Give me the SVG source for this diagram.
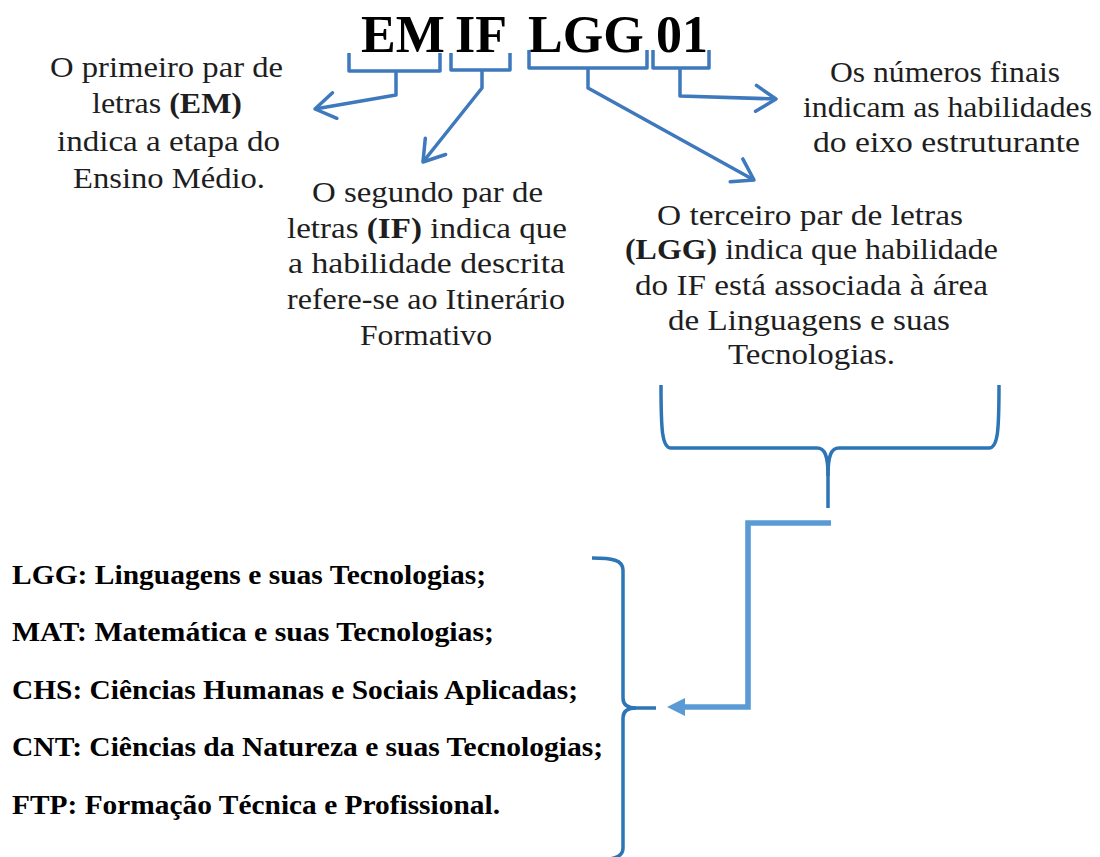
<svg xmlns="http://www.w3.org/2000/svg" width="1100" height="857" viewBox="0 0 1100 857">
<style>
.ttl{font-family:"Liberation Serif","Times New Roman",serif;font-weight:bold;font-size:52px;fill:#000}
.t{font-family:"Liberation Serif","Times New Roman",serif;font-size:28.5px;fill:#1e1e1e}
.bd{font-weight:bold}
.b{font-family:"Liberation Serif","Times New Roman",serif;font-weight:bold;font-size:28px;fill:#000}
.br{fill:none;stroke:#3e78bd;stroke-width:3.5;stroke-linejoin:round}
.ar{fill:none;stroke:#3e78bd;stroke-width:3.5;stroke-linejoin:round}
.cb{fill:none;stroke:#2e75b6;stroke-width:3.5;stroke-linecap:butt}
.el{fill:none;stroke:#5b9bd5;stroke-width:5.6}
</style>
<defs>
<marker id="chev" markerUnits="userSpaceOnUse" viewBox="0 0 30 30" refX="27" refY="15" markerWidth="30" markerHeight="30" orient="auto">
<path d="M7 2 L27 15 L7 28" fill="none" stroke="#3e78bd" stroke-width="3.5" stroke-linecap="round" stroke-linejoin="round"/>
</marker>
<marker id="tri" markerUnits="userSpaceOnUse" viewBox="0 0 18 18" refX="1" refY="9" markerWidth="18" markerHeight="18" orient="auto">
<path d="M0 0 L18 9 L0 18 Z" fill="#5b9bd5"/>
</marker>
</defs>
<rect width="1100" height="857" fill="#fff"/>

<g id="title">
<text class="ttl" x="361" y="52">EM</text>
<text class="ttl" x="455" y="52">IF</text>
<text class="ttl" x="528" y="52">LGG</text>
<text class="ttl" x="656" y="52">01</text>
</g>

<g id="n-em">
<text class="t" x="50" y="77" textLength="233" lengthAdjust="spacingAndGlyphs">O primeiro par de</text>
<text class="t" x="92" y="113" textLength="150" lengthAdjust="spacingAndGlyphs">letras <tspan class="bd">(EM)</tspan></text>
<text class="t" x="57" y="151" textLength="223" lengthAdjust="spacingAndGlyphs">indica a etapa do</text>
<text class="t" x="73" y="188" textLength="192" lengthAdjust="spacingAndGlyphs">Ensino Médio.</text>
</g>

<g id="n-if">
<text class="t" x="312" y="202" textLength="231" lengthAdjust="spacingAndGlyphs">O segundo par de</text>
<text class="t" x="287" y="238" textLength="280" lengthAdjust="spacingAndGlyphs">letras <tspan class="bd">(IF)</tspan> indica que</text>
<text class="t" x="288" y="273" textLength="277" lengthAdjust="spacingAndGlyphs">a habilidade descrita</text>
<text class="t" x="287" y="309" textLength="278" lengthAdjust="spacingAndGlyphs">refere-se ao Itinerário</text>
<text class="t" x="360" y="345" textLength="132" lengthAdjust="spacingAndGlyphs">Formativo</text>
</g>

<g id="n-01">
<text class="t" x="830" y="82" textLength="230" lengthAdjust="spacingAndGlyphs">Os números finais</text>
<text class="t" x="803" y="117" textLength="289" lengthAdjust="spacingAndGlyphs">indicam as habilidades</text>
<text class="t" x="813" y="152" textLength="267" lengthAdjust="spacingAndGlyphs">do eixo estruturante</text>
</g>

<g id="n-lgg">
<text class="t" x="657" y="225" textLength="306" lengthAdjust="spacingAndGlyphs">O terceiro par de letras</text>
<text class="t" x="625" y="259" textLength="373" lengthAdjust="spacingAndGlyphs"><tspan class="bd">(LGG)</tspan> indica que habilidade</text>
<text class="t" x="635" y="295" textLength="353" lengthAdjust="spacingAndGlyphs">do IF está associada à área</text>
<text class="t" x="668" y="330" textLength="282" lengthAdjust="spacingAndGlyphs">de Linguagens e suas</text>
<text class="t" x="728" y="364" textLength="167" lengthAdjust="spacingAndGlyphs">Tecnologias.</text>
</g>

<g id="n-list">
<text class="b" x="12" y="584" textLength="474" lengthAdjust="spacingAndGlyphs">LGG: Linguagens e suas Tecnologias;</text>
<text class="b" x="12" y="641" textLength="482" lengthAdjust="spacingAndGlyphs">MAT: Matemática e suas Tecnologias;</text>
<text class="b" x="12" y="699" textLength="566" lengthAdjust="spacingAndGlyphs">CHS: Ciências Humanas e Sociais Aplicadas;</text>
<text class="b" x="12" y="756" textLength="591" lengthAdjust="spacingAndGlyphs">CNT: Ciências da Natureza e suas Tecnologias;</text>
<text class="b" x="12" y="814" textLength="488" lengthAdjust="spacingAndGlyphs">FTP: Formação Técnica e Profissional.</text>
</g>

<g id="connectors">
<path class="br" d="M349 53 V71 H440 V53"/>
<path class="br" d="M451 53 V70 H510 V53"/>
<path class="br" d="M529 50 V68 H647 V50"/>
<path class="br" d="M653 50 V68 H709 V50"/>
<path class="ar" d="M396 71 V95 L315 109" marker-end="url(#chev)"/>
<path class="ar" d="M482 70 V88 L423 162" marker-end="url(#chev)"/>
<path class="ar" d="M588 68 V88 L754 180" marker-end="url(#chev)"/>
<path class="ar" d="M680 68 V96 L776 99" marker-end="url(#chev)"/>
<path class="cb" d="M661 385 C661 430 662 448 671 448 H817 C825 448 828 456 828 476 V508"/>
<path class="cb" d="M999 385 C999 430 998 448 989 448 H839 C831 448 828 456 828 476"/>
<path class="cb" d="M592 558 C612 558 623 560 623 570 V698 C623 705 628 708 636 708 H656"/>
<path class="cb" d="M636 708 C628 708 623 711 623 718 V848 C623 858 612 860 592 860"/>
<path class="el" d="M831 523 H748 V707 H684" marker-end="url(#tri)"/>
</g>
</svg>
